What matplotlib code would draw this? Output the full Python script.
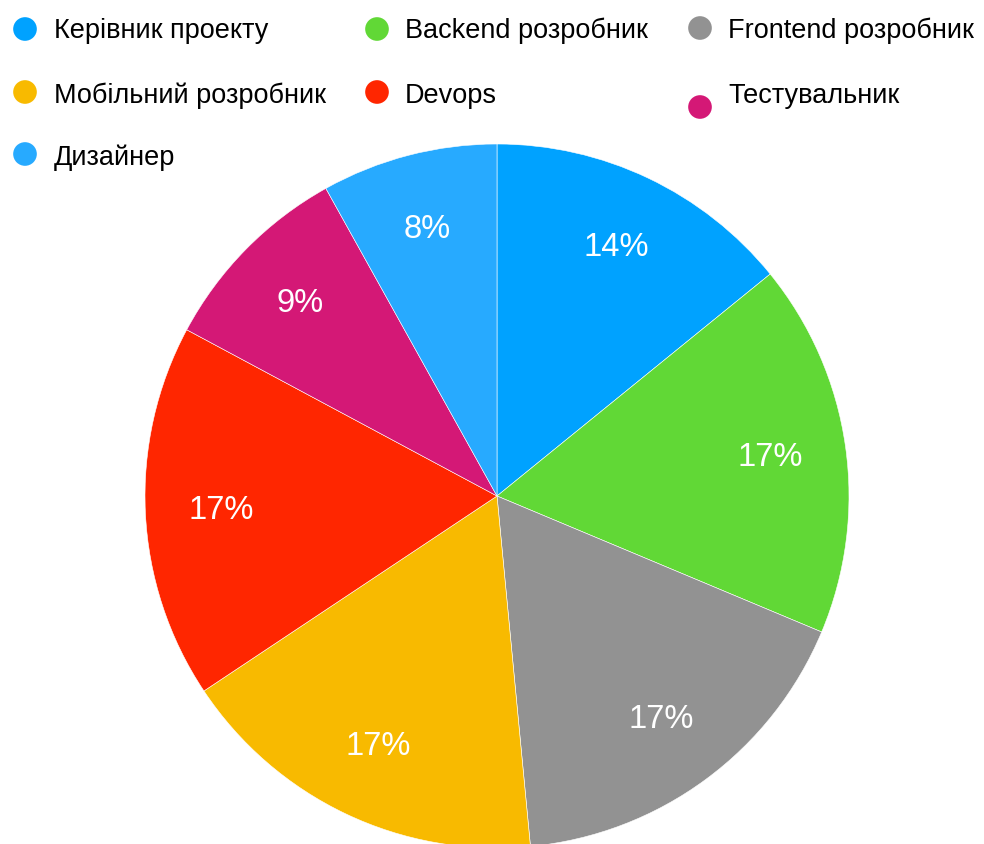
import matplotlib
matplotlib.use("Agg")
import matplotlib.pyplot as plt

plt.rcParams['font.family'] = ['Liberation Sans', 'DejaVu Sans']

roles = ["Керівник проекту", "Backend розробник", "Frontend розробник",
         "Мобільний розробник", "Devops", "Тестувальник", "Дизайнер"]
shares = [14, 17, 17, 17, 17, 9, 8]
colors = ["#00A2FF", "#61D836", "#929292", "#F8BA00", "#FF2600", "#D41876", "#27AAFF"]

W, H = 984, 845
fig = plt.figure(figsize=(W / 100, H / 100), dpi=100)

# pie axes: centre (497, 497) px, radius 352 px
cx, cy, r = 497, 497, 352
ax = fig.add_axes([(cx - r) / W, (H - cy - r) / H, 2 * r / W, 2 * r / H])
wedges, texts, autotexts = ax.pie(
    shares, colors=colors, startangle=90, counterclock=False,
    autopct="%d%%", pctdistance=0.785, radius=1.0,
    wedgeprops=dict(edgecolor="#ffffff", linewidth=0.4),
    textprops=dict(color="white", fontsize=23.5))
for t, v in zip(autotexts, shares):
    t.set_text(f"{v}%")
ax.set_xlim(-1, 1)
ax.set_ylim(-1, 1)
ax.set_aspect("equal")
ax.axis("off")

# legend drawn in pixel coordinates
lg = fig.add_axes([0, 0, 1, 1], facecolor="none")
lg.set_xlim(0, W)
lg.set_ylim(H, 0)
lg.axis("off")
legend_pos = [
    (25, 30, 54, 31), (377, 30, 405, 31), (700, 29, 728, 31),
    (25, 93, 54, 96), (377, 93, 405, 96), (700, 108, 728, 96),
    (25, 155, 54, 158),
]
for (mx, my, tx, ty), name, c in zip(legend_pos, roles, colors):
    lg.scatter([mx], [my], s=290, color=c, edgecolors="none")
    lg.text(tx, ty, name, fontsize=19.5, va="center", ha="left", color="#000000")

fig.savefig("out.png", dpi=100)
